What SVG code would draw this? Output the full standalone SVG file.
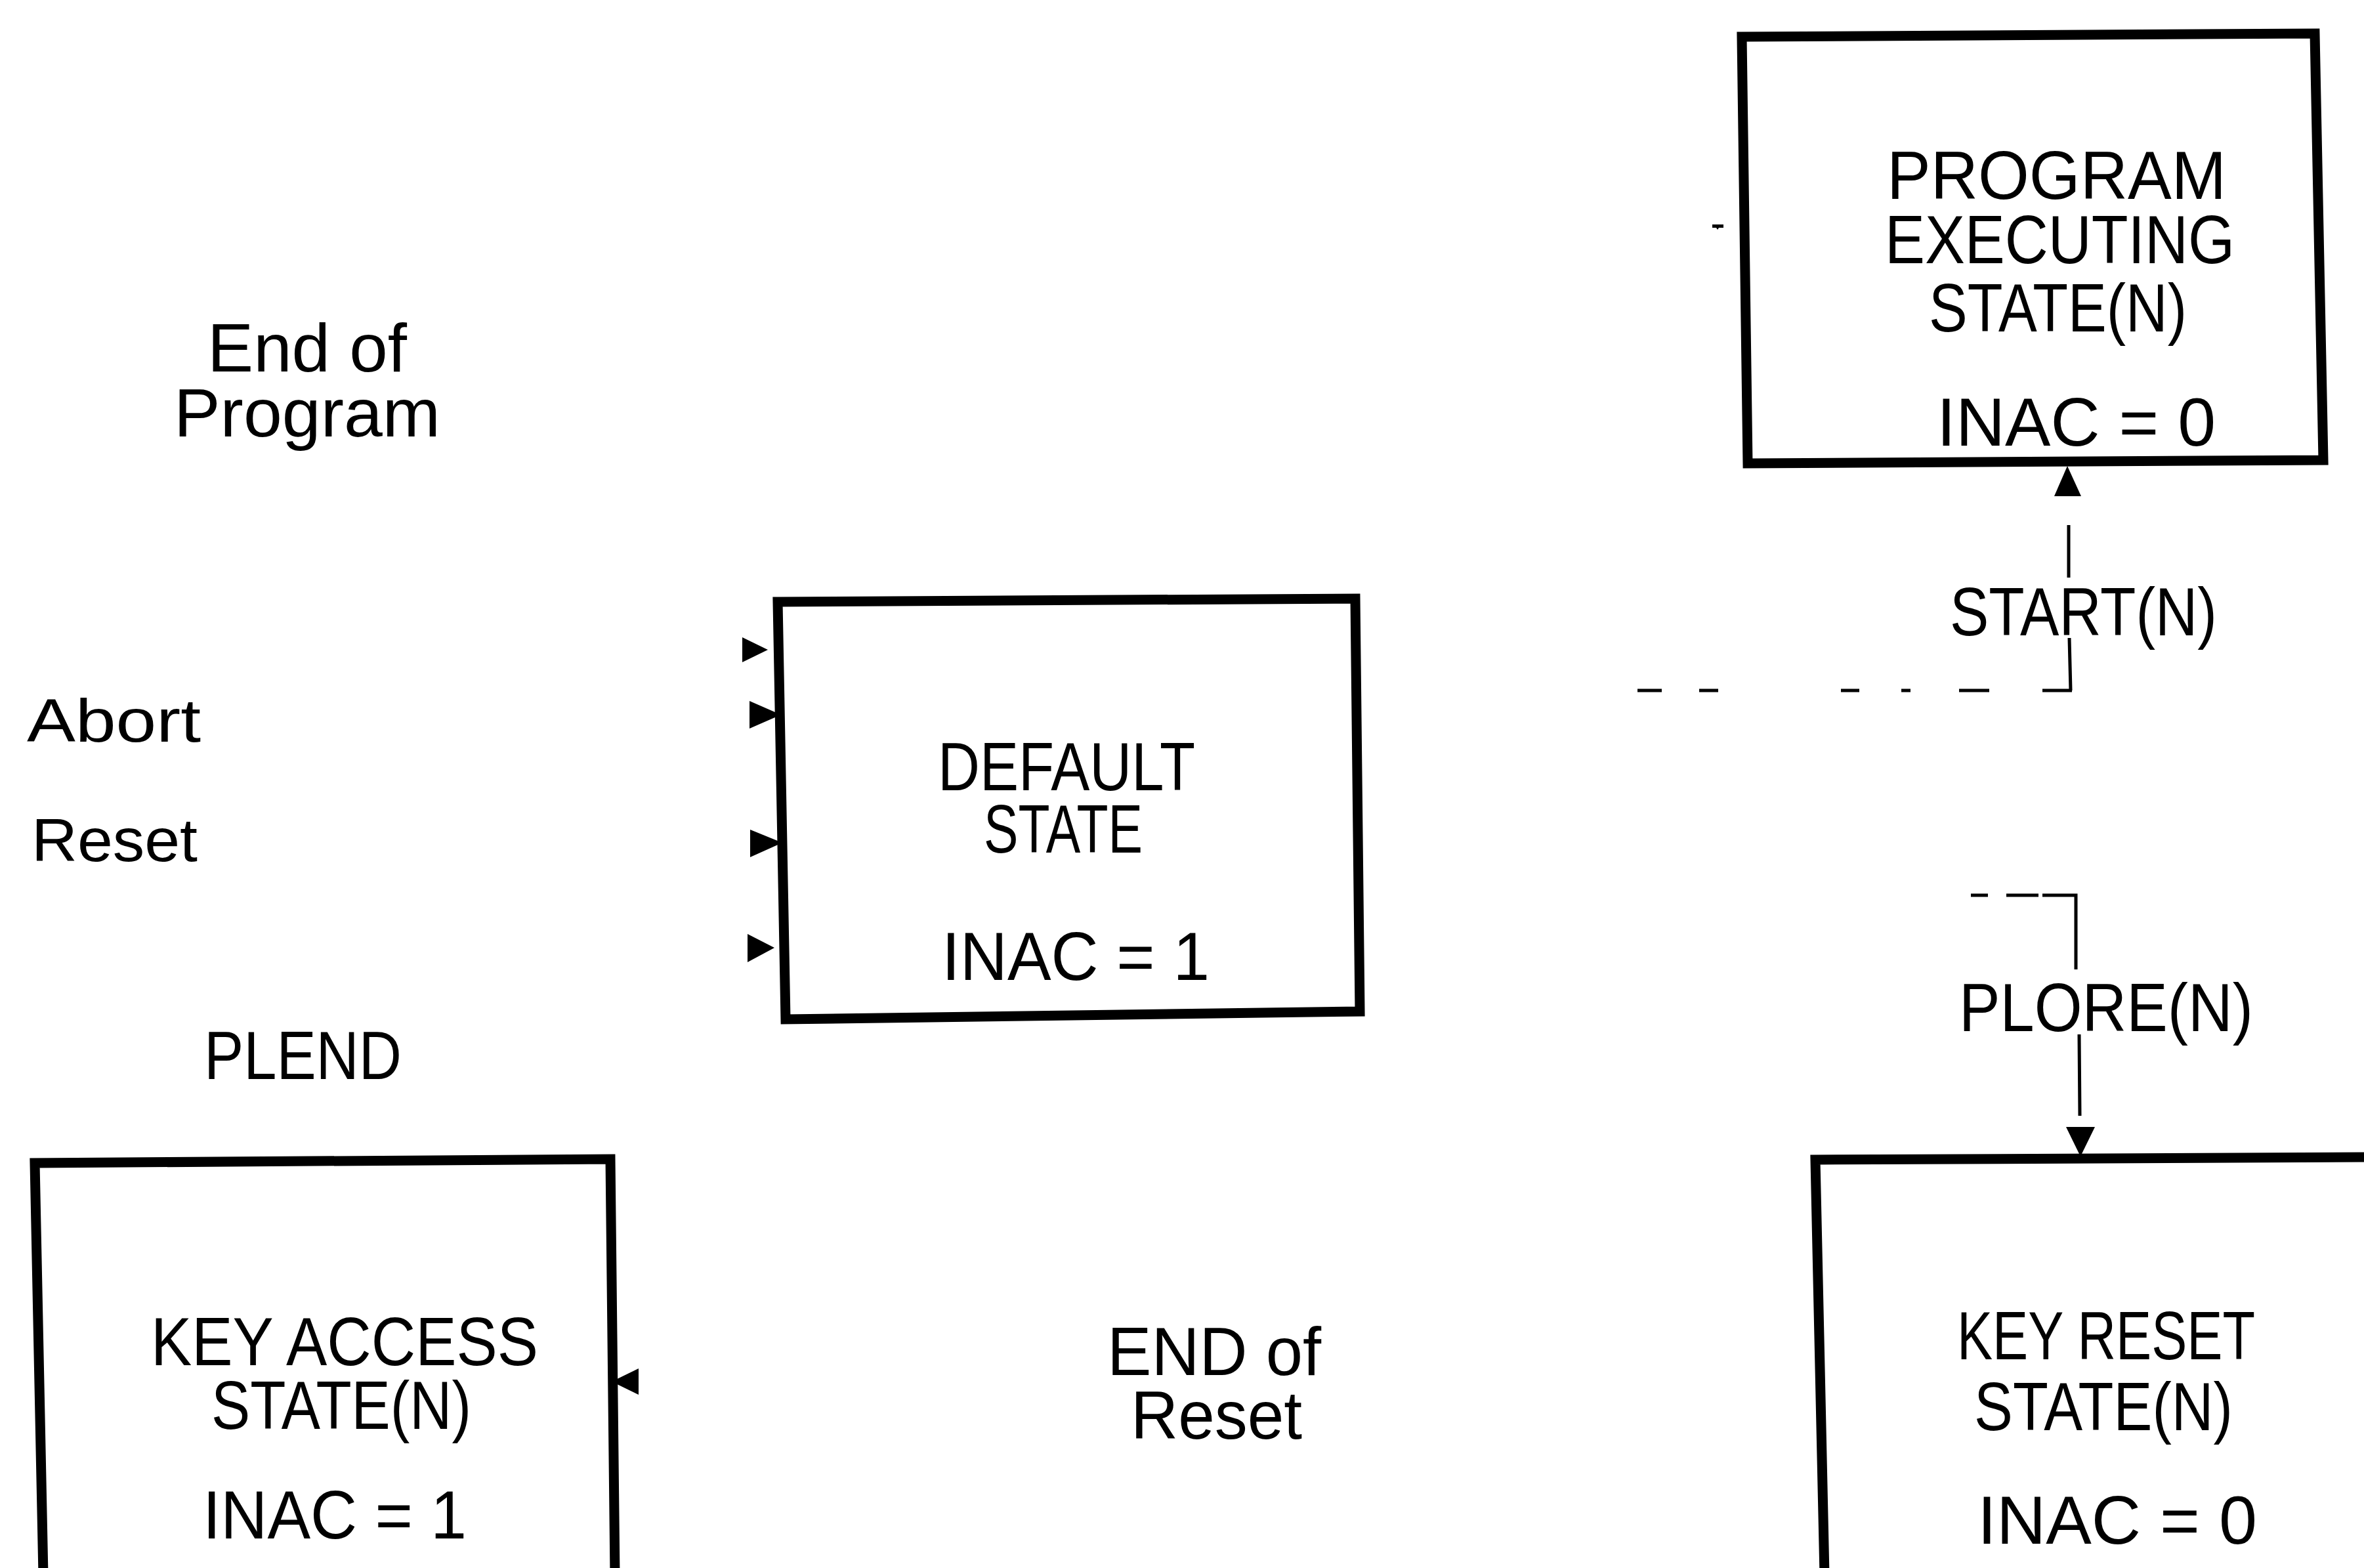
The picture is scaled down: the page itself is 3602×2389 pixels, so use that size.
<svg xmlns="http://www.w3.org/2000/svg" width="3602" height="2389" viewBox="0 0 3602 2389">
<style>
.box{fill:none;stroke:#000;stroke-width:15;stroke-linejoin:miter}
.t{font-family:"Liberation Sans",Arial,sans-serif;font-size:104px;fill:#000}
.s{font-size:92px}
.ln{fill:none;stroke:#000;stroke-width:5}
.ah{fill:#000;stroke:none}
</style>
<rect width="3602" height="2389" fill="#fff"/>
<g id="labels">
<text class="t" x="316" y="566" textLength="304" lengthAdjust="spacingAndGlyphs">End of</text>
<text class="t" x="265" y="665" textLength="406" lengthAdjust="spacingAndGlyphs">Program</text>
<text class="t s" x="41" y="1130" textLength="265" lengthAdjust="spacingAndGlyphs">Abort</text>
<text class="t s" x="48" y="1312" textLength="253" lengthAdjust="spacingAndGlyphs">Reset</text>
<text class="t" x="311" y="1644" textLength="301" lengthAdjust="spacingAndGlyphs">PLEND</text>
<text class="t" x="1687" y="2095" textLength="326" lengthAdjust="spacingAndGlyphs">END of</text>
<text class="t" x="1723" y="2192" textLength="261" lengthAdjust="spacingAndGlyphs">Reset</text>
<text class="t" x="2971" y="968" textLength="407" lengthAdjust="spacingAndGlyphs">START(N)</text>
<text class="t" x="2985" y="1571" textLength="448" lengthAdjust="spacingAndGlyphs">PLORE(N)</text>
</g>
<g id="program-executing">
<path class="box" d="M2654,56 L3527,51 L3540,701 L2663,706 Z"/>
<text class="t" x="2875" y="303" textLength="517" lengthAdjust="spacingAndGlyphs">PROGRAM</text>
<text class="t" x="2872" y="401" textLength="533" lengthAdjust="spacingAndGlyphs">EXECUTING</text>
<text class="t" x="2939" y="505" textLength="393" lengthAdjust="spacingAndGlyphs">STATE(N)</text>
<text class="t" x="2951" y="679" textLength="425" lengthAdjust="spacingAndGlyphs">INAC = 0</text>
</g>
<g id="default-state">
<path class="box" d="M1185,917 L2065,912 L2072,1541 L1197,1553 Z"/>
<text class="t" x="1429" y="1204" textLength="392" lengthAdjust="spacingAndGlyphs">DEFAULT</text>
<text class="t" x="1499" y="1299" textLength="242" lengthAdjust="spacingAndGlyphs">STATE</text>
<text class="t" x="1435" y="1493" textLength="408" lengthAdjust="spacingAndGlyphs">INAC = 1</text>
</g>
<g id="key-access">
<path class="box" d="M66,2400 L53,1772 L930,1766 L937,2400"/>
<text class="t" x="230" y="2080" textLength="590" lengthAdjust="spacingAndGlyphs">KEY ACCESS</text>
<text class="t" x="322" y="2177" textLength="396" lengthAdjust="spacingAndGlyphs">STATE(N)</text>
<text class="t" x="309" y="2344" textLength="402" lengthAdjust="spacingAndGlyphs">INAC = 1</text>
</g>
<g id="key-reset">
<path class="box" d="M2780,2400 L2766,1767 L3610,1763"/>
<text class="t" x="2982" y="2071" textLength="454" lengthAdjust="spacingAndGlyphs">KEY RESET</text>
<text class="t" x="3008" y="2179" textLength="394" lengthAdjust="spacingAndGlyphs">STATE(N)</text>
<text class="t" x="3013" y="2352" textLength="426" lengthAdjust="spacingAndGlyphs">INAC = 0</text>
</g>
<g id="connectors">
<path class="ah" d="M3150,710 L3130,756 L3171,756 Z"/>
<path class="ln" d="M3152,800 L3152,880 M3153,972 L3155,1052"/>
<path class="ln" d="M2495,1052 L2532,1052 M2589,1052 L2618,1052 M2805,1052 L2833,1052 M2897,1052 L2911,1052 M2985,1052 L3031,1052 M3112,1052 L3157,1052"/>
<path class="ah" d="M2609,342 L2626,342 L2626,347 L2619,347 L2617,350 L2615,347 L2609,347 Z"/>
<path class="ln" d="M3003,1364 L3029,1364 M3057,1364 L3106,1364 M3112,1364 L3163,1364 L3163,1477 M3168,1576 L3169,1700"/>
<path class="ah" d="M3148,1717 L3192,1717 L3170,1762 Z"/>
<path class="ah" d="M1131,971 L1131,1009 L1170,990 Z"/>
<path class="ah" d="M1142,1068 L1142,1110 L1190,1089 Z"/>
<path class="ah" d="M1143,1264 L1143,1306 L1192,1284 Z"/>
<path class="ah" d="M1139,1423 L1139,1466 L1180,1444 Z"/>
<path class="ah" d="M973,2085 L973,2125 L932,2105 Z"/>
</g>
</svg>
